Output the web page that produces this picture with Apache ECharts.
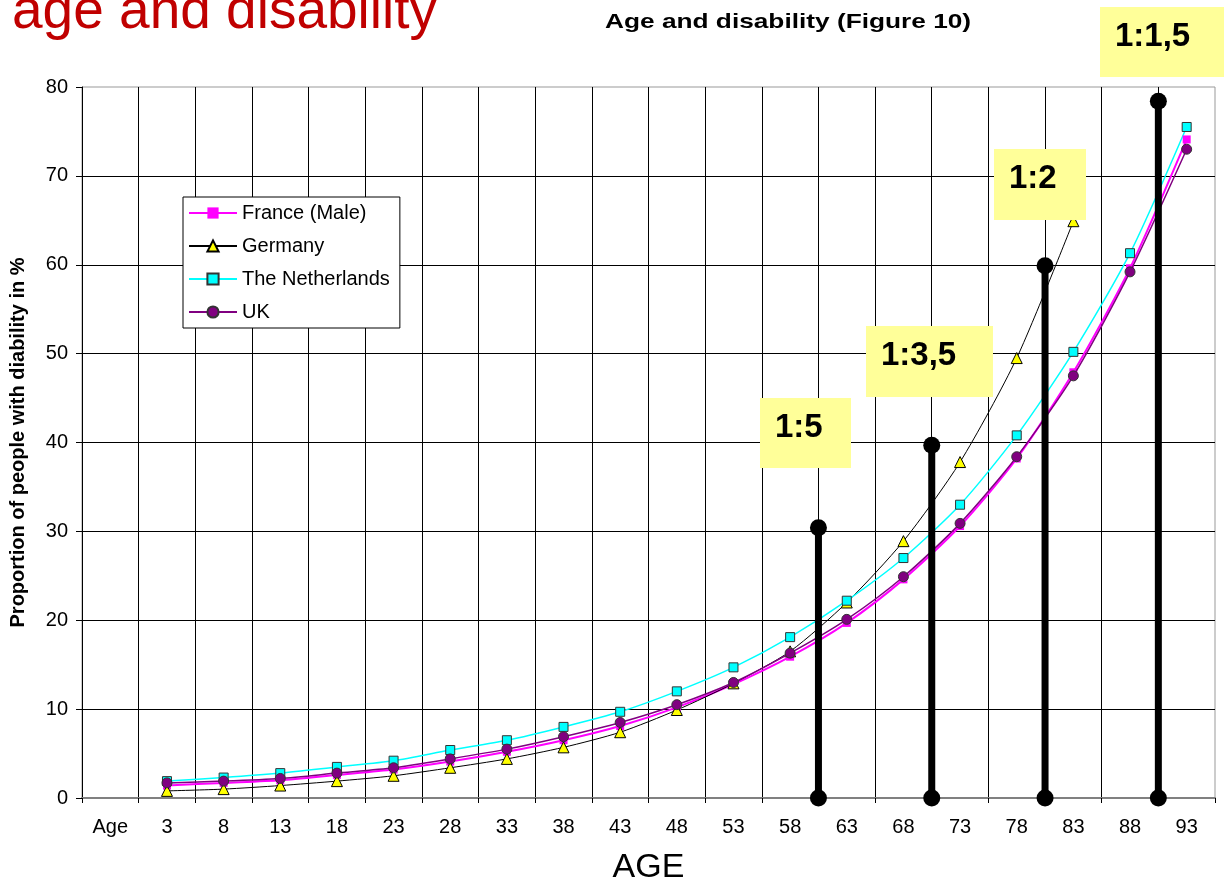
<!DOCTYPE html>
<html>
<head>
<meta charset="utf-8">
<script src="https://cdn.jsdelivr.net/npm/echarts@6/dist/echarts.min.js"></script>
<style>
html,body{margin:0;padding:0;background:#fff;}
#chart{width:1224px;height:884px;}
</style>
</head>
<body>
<div id="chart"></div>
<script>
// ---- data ----
const categories = ['Age','3','8','13','18','23','28','33','38','43','48','53','58','63','68','73','78','83','88','93'];
const france      = ['-',1.4,1.7,2.0,2.6,3.2,4.1,5.2,6.5,8.1,10.2,12.8,15.9,19.7,24.6,30.6,38.2,47.9,59.6,74.1];
const germany     = ['-',0.8,1.0,1.4,1.9,2.5,3.4,4.4,5.7,7.4,9.9,12.9,16.5,22.0,28.9,37.8,49.5,64.9,'-','-'];
const netherlands = ['-',1.9,2.3,2.8,3.5,4.2,5.4,6.5,8.0,9.7,12.0,14.7,18.1,22.2,27.0,33.0,40.8,50.2,61.3,75.5];
const uk          = ['-',1.7,1.9,2.2,2.8,3.4,4.4,5.5,6.9,8.5,10.5,13.0,16.3,20.1,24.9,30.9,38.4,47.5,59.2,73.0];
// dependency-ratio markers: position on category-boundary scale (0..20) and height
const ratioPos    = [13, 15, 17, 19];
const ratioTop    = [30.4, 39.7, 59.9, 78.4];
const ratioLabels = ['1:5', '1:3,5', '1:2', '1:1,5'];
const yTicks = [0,10,20,30,40,50,60,70,80];

const FONT = '"Liberation Sans", Arial, sans-serif';
const chart = echarts.init(document.getElementById('chart'));

const ratioSeries = ratioPos.map((p, i) => ({
  type: 'line',
  name: 'ratio' + i,
  xAxisIndex: 1,
  yAxisIndex: 0,
  data: [[p, 0], [p, ratioTop[i]]],
  symbol: 'circle',
  symbolSize: 17,
  lineStyle: { color: '#000', width: 7 },
  itemStyle: { color: '#000' },
  z: 5,
  silent: true
}));

// annotation boxes (layout only)
const boxes = [
  { x: 760, y: 398, w: 91, h: 70 },
  { x: 866, y: 326, w: 127, h: 71 },
  { x: 994, y: 149, w: 92, h: 71 },
  { x: 1100, y: 7, w: 124, h: 70 }
];
const boxGraphics = [];
boxes.forEach((b, i) => {
  boxGraphics.push({
    type: 'rect', shape: { x: b.x, y: b.y, width: b.w, height: b.h },
    style: { fill: '#FFFF99' }, z: 20
  });
  boxGraphics.push({
    type: 'text', x: b.x + 15, y: b.y + 30, z: 21,
    style: { text: ratioLabels[i], font: 'bold 33px ' + FONT, fill: '#000',
             align: 'left', verticalAlign: 'middle' }
  });
});

const option = {
  animation: false,
  backgroundColor: '#fff',
  textStyle: { fontFamily: FONT },
  grid: { left: 82, right: 9, top: 87, bottom: 86, outerBoundsMode: 'none', containLabel: false,
          show: true, borderColor: '#999', borderWidth: 1, backgroundColor: 'transparent' },
  legend: {
    data: ['France (Male)', 'Germany', 'The Netherlands', 'UK'],
    orient: 'vertical',
    left: 183, top: 197,
    padding: [6, 10, 6, 5],
    itemWidth: 48, itemHeight: 14, itemGap: 13,
    backgroundColor: '#fff', borderColor: '#000', borderWidth: 1,
    textStyle: { fontSize: 20, color: '#000', fontFamily: FONT, lineHeight: 20 },
    z: 10
  },
  xAxis: [
    {
      type: 'category', data: categories, boundaryGap: true,
      name: 'AGE', nameLocation: 'middle', nameGap: 53,
      nameTextStyle: { fontSize: 34, color: '#000', fontFamily: FONT },
      axisLine: { show: true, lineStyle: { color: '#808080', width: 2 } },
      axisTick: { show: true, length: 5, lineStyle: { color: '#000' } },
      axisLabel: { fontSize: 20, color: '#000', margin: 19, fontFamily: FONT },
      splitLine: { show: true, showMaxLine: false, lineStyle: { color: '#000', width: 1 } }
    },
    { type: 'value', min: 0, max: 20, show: false }
  ],
  yAxis: {
    type: 'value', min: 0, max: 80, interval: 10,
    name: 'Proportion of people with diability in %', nameLocation: 'middle', nameGap: 54,
    nameRotate: 90,
    nameTextStyle: { fontSize: 20, fontWeight: 'bold', color: '#000', fontFamily: FONT },
    axisLine: { show: true, lineStyle: { color: '#000', width: 1 } },
    axisTick: { show: true, length: 6, lineStyle: { color: '#000' } },
    axisLabel: { fontSize: 20, color: '#000', margin: 14, fontFamily: FONT,
                 formatter: v => yTicks.includes(v) ? String(v) : '' },
    splitLine: { show: true, showMaxLine: false, lineStyle: { color: '#000', width: 1 } }
  },
  series: [
    { type: 'line', name: 'France (Male)', data: france, smooth: 0.25,
      symbol: 'rect', symbolSize: 8,
      lineStyle: { color: '#FF00FF', width: 2 },
      itemStyle: { color: '#FF00FF', borderWidth: 0 }, z: 3 },
    { type: 'line', name: 'Germany', data: germany, smooth: 0.25,
      symbol: 'triangle', symbolSize: 11,
      lineStyle: { color: '#000', width: 1 },
      itemStyle: { color: '#FFFF00', borderColor: '#000', borderWidth: 1 }, z: 3 },
    { type: 'line', name: 'The Netherlands', data: netherlands, smooth: 0.25,
      symbol: 'rect', symbolSize: 9,
      lineStyle: { color: '#00FFFF', width: 1.5 },
      itemStyle: { color: '#00FFFF', borderColor: '#333', borderWidth: 1 }, z: 3 },
    { type: 'line', name: 'UK', data: uk, smooth: 0.25,
      symbol: 'circle', symbolSize: 10,
      lineStyle: { color: '#800080', width: 1.5 },
      itemStyle: { color: '#800080', borderColor: '#333', borderWidth: 1 }, z: 4 }
  ].concat(ratioSeries),
  graphic: [
    { type: 'text', x: 12, y: -15, z: 30,
      style: { text: 'age and disability', font: '55px ' + FONT, fill: '#C00000',
               align: 'left', verticalAlign: 'top' } },
    { type: 'text', x: 605, y: 12, z: 30, scaleX: 1.25, originX: 0, originY: 0,
      style: { text: 'Age and disability (Figure 10)', font: 'bold 21px ' + FONT, fill: '#000',
               align: 'left', verticalAlign: 'top' } }
  ].concat(boxGraphics)
};
chart.setOption(option);
</script>
</body>
</html>
